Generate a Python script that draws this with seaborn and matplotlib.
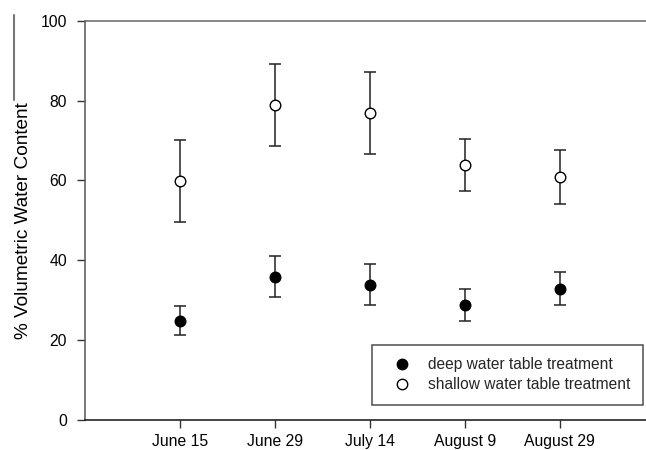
import matplotlib
matplotlib.use("Agg")
import matplotlib.pyplot as plt
from matplotlib.lines import Line2D
import seaborn as sns
import pandas as pd
import numpy as np

dates = ["June 15", "June 29", "July 14", "August 9", "August 29"]
deep_mean = [24.8, 35.8, 33.9, 28.9, 32.8]
deep_low = [21.2, 30.8, 28.8, 24.8, 28.8]
deep_high = [28.6, 41.0, 39.0, 32.9, 37.1]
shallow_mean = [59.9, 78.9, 76.9, 63.9, 60.8]
shallow_low = [49.7, 68.5, 66.5, 57.3, 54.0]
shallow_high = [70.2, 89.2, 87.2, 70.3, 67.7]
yticks = [0, 20, 40, 60, 80, 100]

sns.set_theme(style="ticks")
plt.rcParams["font.family"] = ["Liberation Sans", "DejaVu Sans"]

W, H = 646, 450
fig = plt.figure(figsize=(W / 100, H / 100), dpi=100)
ax_left, ax_right, ax_top, ax_bottom = 85, 646, 20.7, 420
ax = fig.add_axes([ax_left / W, (H - ax_bottom) / H,
                   (ax_right - ax_left) / W, (ax_bottom - ax_top) / H])

xpos = np.arange(len(dates))
df = pd.DataFrame({
    "x": np.concatenate([xpos, xpos]),
    "y": deep_mean + shallow_mean,
    "lo": deep_low + shallow_low,
    "hi": deep_high + shallow_high,
    "group": ["deep water table treatment"] * len(dates)
    + ["shallow water table treatment"] * len(dates),
})

for g, sub in df.groupby("group", sort=False):
    ax.errorbar(sub["x"], sub["y"],
                yerr=[sub["y"] - sub["lo"], sub["hi"] - sub["y"]],
                fmt="none", ecolor="#222222", elinewidth=1.1,
                capsize=4.4, capthick=1.1, zorder=2)

deep = df[df["group"] == "deep water table treatment"]
shal = df[df["group"] == "shallow water table treatment"]
sns.scatterplot(data=deep, x="x", y="y", color="black", edgecolor="black",
                s=58, linewidth=1, ax=ax, zorder=3, legend=False)
sns.scatterplot(data=shal, x="x", y="y", color="white", edgecolor="black",
                s=58, linewidth=1, ax=ax, zorder=3, legend=False)

ax.set_xlim(-1, 4.91)
ax.set_ylim(0, 100)
ax.set_xticks(xpos)
ax.set_xticklabels(dates)
ax.set_yticks(yticks)
ax.set_xlabel("")
ax.set_ylabel("% Volumetric Water Content", fontsize=13.7, color="black")
ax.yaxis.set_label_coords(-0.094, 0.5)

ax.tick_params(axis="both", direction="out", length=6, width=1,
               labelsize=11.3, colors="#333333", labelcolor="black")
ax.tick_params(axis="x", pad=4)
ax.tick_params(axis="y", pad=7)

for side in ["left", "top", "bottom"]:
    ax.spines[side].set_visible(True)
    ax.spines[side].set_linewidth(1.1)
ax.spines["right"].set_visible(False)
ax.spines["left"].set_color("#555555")
ax.spines["top"].set_color("#666666")
ax.spines["bottom"].set_color("#111111")

handles = [
    Line2D([], [], linestyle="none", marker="o", markersize=7.5,
           markerfacecolor="black", markeredgecolor="black"),
    Line2D([], [], linestyle="none", marker="o", markersize=7.5,
           markerfacecolor="white", markeredgecolor="black"),
]
labels = ["deep water table treatment", "shallow water table treatment"]
ax_h = ax_bottom - ax_top
leg = ax.legend(handles, labels, loc="upper left",
                bbox_to_anchor=((372 - ax_left) / (ax_right - ax_left),
                                (ax_bottom - 345) / ax_h),
                borderaxespad=0, fontsize=11.2, frameon=True, fancybox=False,
                edgecolor="#222222", borderpad=0.8, handlelength=2.2,
                handletextpad=0.6, labelspacing=0.3)
leg.get_frame().set_linewidth(1.1)

# thin gray vertical stroke at the far left of the original figure
fig.add_artist(Line2D([14 / W, 14 / W], [1 - 15 / H, 1 - 100 / H],
                      transform=fig.transFigure, color="#777777", lw=1.5))

fig.savefig("out.png", dpi=100)
